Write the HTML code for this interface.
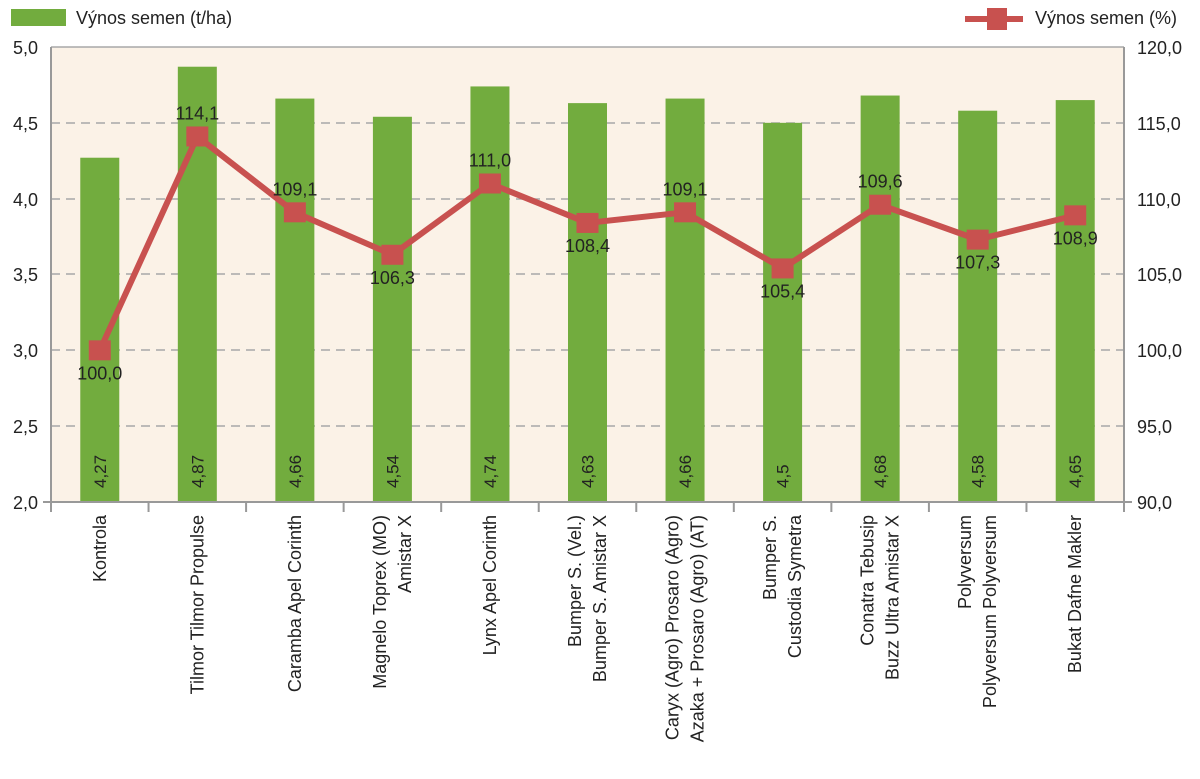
<!DOCTYPE html>
<html><head><meta charset="utf-8"><style>
body{margin:0;background:#fff}
text{font-family:"Liberation Sans",sans-serif;fill:#222}
</style></head><body>
<svg width="1200" height="774" viewBox="0 0 1200 774" xmlns="http://www.w3.org/2000/svg">
<rect x="51" y="47" width="1073" height="455" fill="#fbf2e7"/>
<g stroke="#a8a8a8" stroke-width="1.5" stroke-dasharray="9,6">
<line x1="51" x2="1124" y1="123" y2="123"/><line x1="51" x2="1124" y1="199" y2="199"/>
<line x1="51" x2="1124" y1="274" y2="274"/><line x1="51" x2="1124" y1="350" y2="350"/>
<line x1="51" x2="1124" y1="426" y2="426"/>
</g>
<line x1="51" x2="1124" y1="47" y2="47" stroke="#a8a8a8" stroke-width="1.5"/>
<g id="bars" fill="#72ac3e"></g>
<g stroke="#999" stroke-width="2" fill="none">
<line x1="51" y1="47" x2="51" y2="512"/><line x1="1124" y1="47" x2="1124" y2="502"/>
<line x1="43" y1="502" x2="1132" y2="502"/>
</g>
<g id="ticks" stroke="#999" stroke-width="2"></g>
<g font-size="18" text-anchor="end">
<text x="38" y="54">5,0</text><text x="38" y="130">4,5</text><text x="38" y="206">4,0</text>
<text x="38" y="281">3,5</text><text x="38" y="357">3,0</text><text x="38" y="433">2,5</text><text x="38" y="509">2,0</text>
</g>
<g font-size="18" text-anchor="start">
<text x="1137" y="54">120,0</text><text x="1137" y="130">115,0</text><text x="1137" y="206">110,0</text>
<text x="1137" y="281">105,0</text><text x="1137" y="357">100,0</text><text x="1137" y="433">95,0</text><text x="1137" y="509">90,0</text>
</g>
<rect x="11" y="9" width="55" height="17" fill="#72ac3e"/>
<text x="76" y="24" font-size="18">Výnos semen (t/ha)</text>
<line x1="965" x2="1023" y1="19" y2="19" stroke="#c8514f" stroke-width="6"/>
<rect x="987" y="8" width="20" height="22" fill="#c8514f"/>
<text x="1035" y="24" font-size="18">Výnos semen (%)</text>
<g id="line"></g>
<g id="xl" font-size="18"></g>
</svg>
<script>
var ns="http://www.w3.org/2000/svg";
var vals=[4.27,4.87,4.66,4.54,4.74,4.63,4.66,4.5,4.68,4.58,4.65];
var vl=["4,27","4,87","4,66","4,54","4,74","4,63","4,66","4,5","4,68","4,58","4,65"];
var pct=[100,114.1,109.1,106.3,111,108.4,109.1,105.4,109.6,107.3,108.9];
var pl=["100,0","114,1","109,1","106,3","111,0","108,4","109,1","105,4","109,6","107,3","108,9"];
var above=[0,1,1,0,1,0,1,0,1,0,0];
var labs=[["Kontrola"],["Tilmor Tilmor Propulse"],["Caramba Apel Corinth"],["Magnelo Toprex (MO)","Amistar X"],["Lynx Apel Corinth"],["Bumper S. (Vel.)","Bumper S. Amistar X"],["Caryx (Agro) Prosaro (Agro)","Azaka + Prosaro (Agro) (AT)"],["Bumper S.","Custodia Symetra"],["Conatra Tebusip","Buzz Ultra Amistar X"],["Polyversum","Polyversum Polyversum"],["Bukat Dafne Makler"]];
var W=1073/11;
function el(t,a,p,txt){var e=document.createElementNS(ns,t);for(var k in a)e.setAttribute(k,a[k]);if(txt)e.textContent=txt;document.getElementById(p).appendChild(e);return e;}
var pts=[];
for(var i=0;i<11;i++){
 var c=51+W*(i+0.5);
 var y=502-(vals[i]-2)*455/3;
 el("rect",{x:c-19.5,y:y,width:39,height:502-y},"bars");
 el("text",{transform:"translate("+(c+6)+",488) rotate(-90)","font-size":"17","fill":"#1d2a12"},"bars",vl[i]);
 el("line",{x1:51+W*(i+1),x2:51+W*(i+1),y1:502,y2:512},"ticks");
 var py=502-(pct[i]-90)*455/30;pts.push(c+","+py);
 var ls=labs[i];
 for(var j=0;j<ls.length;j++){
  var off=ls.length==1?0:(j==0?-12.5:12.5);
  el("text",{transform:"translate("+(c+off)+",515) rotate(-90)","text-anchor":"end","dominant-baseline":"central"},"xl",ls[j]);
 }
}
el("polyline",{points:pts.join(" "),fill:"none",stroke:"#c8514f","stroke-width":"6","stroke-linejoin":"round"},"line");
for(var i=0;i<11;i++){
 var c=51+W*(i+0.5),py=502-(pct[i]-90)*455/30;
 el("rect",{x:c-11,y:py-10,width:22,height:20,fill:"#c8514f"},"line");
 el("text",{x:c,y:above[i]?py-17:py+29,"text-anchor":"middle","font-size":"18"},"line",pl[i]);
}
</script>
</body></html>
